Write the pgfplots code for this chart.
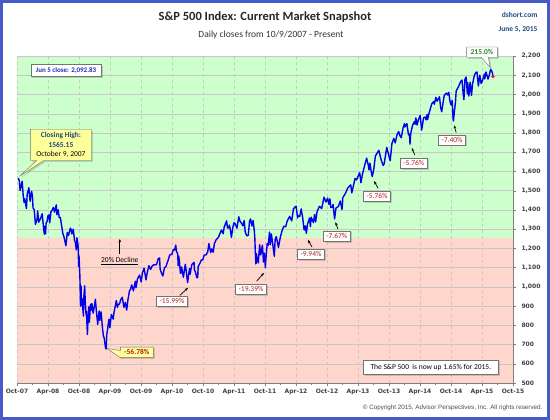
\documentclass[border=0pt]{standalone}
\usepackage{fontspec}
\setmainfont{Carlito}
\newfontfamily\tickfont{DejaVu Sans}
\newfontfamily\arialfont{Liberation Sans}
\usepackage{pgfplots}
\usepackage{pgfplotstable}
\pgfplotsset{compat=1.18}
\usetikzlibrary{shapes.callouts,shadows,arrows.meta}

\definecolor{bggreen}{RGB}{204,255,204}
\definecolor{bgred}{RGB}{255,214,204}
\definecolor{frameblue}{RGB}{70,90,200}
\definecolor{lineblue}{RGB}{0,0,235}
\definecolor{titleblue}{RGB}{31,73,125}
\definecolor{boxblue}{RGB}{40,40,190}
\definecolor{annred}{RGB}{180,30,30}
\definecolor{anngreen}{RGB}{40,140,40}
\definecolor{calloutyellow}{RGB}{255,255,153}

\pgfplotstableread{
x y
0.27 1565
0.47 1548
0.60 1501
0.77 1520
1.00 1549
1.20 1475
1.37 1439
1.50 1458
1.83 1407
1.97 1481
2.30 1515
2.53 1445
2.83 1497
3.00 1468
3.10 1411
3.33 1401
3.57 1325
3.73 1338
3.90 1353
4.00 1395
4.20 1336
4.43 1348
4.63 1360
4.87 1380
5.20 1293
5.30 1273
5.40 1315
5.53 1276
5.63 1330
5.83 1341
6.00 1370
6.20 1373
6.33 1332
6.57 1390
6.80 1398
7.03 1413
7.27 1388
7.60 1426
7.73 1375
7.97 1400
8.17 1360
8.40 1360
8.63 1318
8.87 1278
9.07 1262
9.47 1214
9.73 1283
9.97 1267
10.33 1305
10.47 1298
10.63 1275
10.90 1300
11.13 1242
11.30 1232
11.47 1192
11.60 1255
11.83 1213
11.93 1106
12.00 1161
12.17 1057
12.30 899
12.40 1003
12.47 908
12.53 940
12.70 896
12.87 848
12.90 941
13.00 968
13.10 1005
13.20 930
13.37 853
13.43 873
13.63 752
13.77 851
13.90 896
14.00 816
14.23 909
14.37 879
14.50 913
14.73 863
15.00 903
15.17 935
15.37 871
15.63 805
15.70 828
15.90 874
16.03 825
16.27 870
16.53 789
16.73 743
16.87 735
17.13 683
17.27 676.5
17.37 750
17.53 778
17.73 822
17.83 832
17.97 787
18.27 856
18.63 832
18.77 866
19.23 929
19.43 893
19.60 909
19.83 910
20.07 932
20.37 946
20.70 893
20.97 919
21.23 879
21.47 932
21.77 979
21.97 987
22.20 1010
22.53 979
22.90 1029
23.03 995
23.33 1042
23.73 1061
24.03 1025
24.27 1072
24.60 1097
24.97 1036
25.17 1069
25.53 1110
25.87 1091
26.10 1106
26.43 1114
27.00 1115
27.33 1146
27.60 1150
27.70 1092
27.93 1074
28.23 1056
28.53 1099
28.83 1105
29.27 1140
29.57 1166
29.97 1169
30.27 1194
30.50 1192
30.73 1217
30.87 1183
31.10 1173
31.17 1128
31.20 1110
31.30 1160
31.43 1136
31.63 1071
31.80 1074
31.87 1103
32.10 1065
32.20 1050
32.57 1117
32.70 1095
32.93 1041
33.03 1022.6
33.20 1060
33.40 1095
33.50 1065
33.83 1115
34.27 1127
34.33 1089
34.50 1079
34.83 1047
34.97 1049
35.07 1105
35.40 1122
35.67 1139
35.97 1141
36.23 1165
36.60 1166
36.93 1183
37.13 1225
37.50 1178
37.70 1197
37.97 1180
38.20 1224
38.53 1244
39.00 1258
39.20 1272
39.57 1295
39.90 1276
40.10 1310
40.57 1343
40.73 1307
41.00 1306
41.10 1321
41.30 1295
41.50 1257
41.77 1309
42.00 1333
42.23 1328
42.57 1305
42.93 1364
43.17 1340
43.50 1329
43.73 1317
43.97 1345
44.17 1286
44.47 1265
44.77 1268
45.00 1340
45.20 1353
45.47 1316
45.70 1345
45.93 1292
46.03 1254
46.10 1200
46.23 1119
46.27 1172
46.30 1121
46.33 1172
46.57 1140
46.70 1124
46.97 1219
47.17 1166
47.50 1216
47.70 1129
47.87 1175
48.07 1099
48.20 1155
48.43 1225
48.63 1215
48.87 1285
49.03 1219
49.23 1275
49.53 1216
49.80 1159
49.97 1247
50.20 1261
50.60 1205
50.97 1258
51.30 1292
51.63 1315
52.00 1312
52.30 1342
52.77 1366
53.17 1343
53.50 1404
53.83 1416
54.03 1419
54.30 1358
54.40 1370
54.73 1366
55.00 1405
55.30 1358
55.57 1295
55.80 1317
56.00 1278
56.23 1325
56.60 1357
56.80 1313
56.93 1362
57.37 1334
57.60 1376
57.80 1337
58.07 1390
58.53 1418
58.97 1407
59.43 1466
59.80 1441
60.13 1461
60.37 1429
60.57 1457
60.73 1413
61.03 1414
61.17 1428
61.47 1353
61.73 1409
62.20 1418
62.57 1446
62.90 1402
63.00 1426
63.03 1462
63.57 1486
64.00 1513
64.60 1530
64.80 1488
65.43 1563
65.70 1556
66.33 1593
66.57 1541
66.83 1582
67.30 1633
67.67 1669
68.00 1631
68.13 1608
68.30 1643
68.63 1588
68.77 1573
69.07 1615
69.37 1680
69.70 1695
70.03 1710
70.47 1661
70.87 1631
71.07 1640
71.57 1725
71.97 1682
72.23 1656
72.57 1745
72.93 1772
73.20 1748
73.57 1792
73.87 1807
74.13 1785
74.37 1775
74.73 1827
75.00 1848
75.07 1831
75.47 1848
75.77 1790
75.97 1794
76.07 1742
76.20 1797
76.57 1840
76.93 1859
77.07 1845
77.20 1878
77.43 1841
77.67 1866
78.03 1891
78.33 1815
78.70 1879
79.00 1883
79.20 1868
79.40 1897
79.47 1870
79.73 1900
80.27 1951
80.63 1963
80.77 1949
81.07 1985
81.30 1965
81.77 1988
82.00 1931
82.20 1910
82.67 1993
82.93 2003
83.13 2007
83.33 1997
83.57 2011
83.80 1965
84.00 1946
84.23 1968
84.40 1874
84.47 1862
84.63 1905
84.87 1961
85.00 2018
85.43 2039
85.90 2068
86.13 2075
86.37 2002
86.50 1973
86.70 2078
86.93 2091
87.17 2003
87.23 2062
87.47 1992
87.70 2063
87.97 1995
88.17 2055
88.53 2100
88.80 2114
89.03 2117
89.30 2044
89.57 2100
89.83 2057
90.03 2067
90.47 2106
90.53 2081
90.77 2117
91.17 2080
91.40 2099
91.67 2131
91.90 2121
92.03 2110
92.13 2093
}\spx

\begin{document}
\begin{tikzpicture}
\begin{axis}[
  name=ax,
  scale only axis, width=496pt, height=327pt,
  xmin=0, xmax=96, ymin=500, ymax=2200,
  set layers, clip=false,
  axis x line*=bottom, axis y line*=right,
  axis line style={gray}, tick style={gray}, tick align=outside,
  major tick length=3pt, minor tick length=2pt,
  xtick={0,6,...,96},
  xticklabels={Oct-07,Apr-08,Oct-08,Apr-09,Oct-09,Apr-10,Oct-10,Apr-11,Oct-11,Apr-12,Oct-12,Apr-13,Oct-13,Apr-14,Oct-14,Apr-15,Oct-15},
  minor x tick num=1,
  ytick={500,600,...,2200},
  yticklabel pos=right,
  yticklabel style={xshift=2pt},
  /pgf/number format/1000 sep={,},
  /pgf/number format/assume math mode=true,
  ticklabel style={font=\tickfont\bfseries\fontsize{6}{7}\selectfont, text=black!75},
  xmajorgrids, ymajorgrids,
  x grid style={dashed, black!22},
  y grid style={black!22},
]
\begin{pgfonlayer}{axis background}
\fill[bgred] (axis cs:0,500) rectangle (axis cs:96,1252);
\fill[bggreen] (axis cs:0,1252) rectangle (axis cs:96,2200);
\end{pgfonlayer}
\addplot[lineblue, line width=1.4pt, line join=round] table[x=x,y=y] {\spx};
\addplot[only marks, mark=*, mark size=1.4pt, color=red!70!magenta] coordinates {(92.13,2093)};

\node[draw=black!55, fill=white, drop shadow={shadow xshift=1.5pt,shadow yshift=-1.5pt,opacity=0.35}, font=\bfseries\fontsize{7}{8}\selectfont, text=boxblue, inner xsep=5pt, inner ysep=3pt] at (axis cs:9.5,2125) {Jun 5 close: 2,092.83};

\node[rectangle callout, draw=black!55, fill=calloutyellow, drop shadow={shadow xshift=1.5pt,shadow yshift=-1.5pt,opacity=0.35}, align=center, font=\fontsize{7.5}{9.5}\selectfont, inner xsep=6pt, inner ysep=3pt, callout absolute pointer={(axis cs:0.5,1575)}] at (axis cs:8.5,1738) {\textcolor{titleblue}{\bfseries Closing High:}\\\textcolor{titleblue}{\bfseries 1565.15}\\October 9, 2007};

\node[font=\fontsize{7.5}{9}\selectfont] at (axis cs:19.9,1134) {\underline{20\% Decline}};
\draw[-{Stealth[length=3.5pt]}, line width=0.7pt] (axis cs:19.9,1172) -- (axis cs:19.9,1249);

\node[rectangle callout, draw=black!55, fill=calloutyellow, drop shadow={shadow xshift=1.5pt,shadow yshift=-1.5pt,opacity=0.35}, font=\bfseries\fontsize{7.5}{9}\selectfont, text=annred, inner xsep=4pt, inner ysep=2.5pt, callout absolute pointer={(axis cs:17.4,680)}] at (axis cs:23.2,660) {-56.78\%};

\tikzset{dbox/.style={draw=black!55, fill=white, drop shadow={shadow xshift=1.5pt,shadow yshift=-1.5pt,opacity=0.35}, font=\fontsize{7.5}{9}\selectfont, text=annred, inner xsep=3pt, inner ysep=2.5pt},
 darr/.style={-{Stealth[length=3.5pt]}, line width=0.7pt}}

\node[dbox] at (axis cs:30.0,925) {-15.99\%};
\draw[darr] (axis cs:31.5,955) -- (axis cs:33.1,995);

\node[dbox] at (axis cs:45.3,989) {-19.39\%};
\draw[darr] (axis cs:46.4,1030) -- (axis cs:47.8,1072);

\node[dbox] at (axis cs:56.9,1171) {-9.94\%};
\draw[darr] (axis cs:57.1,1207) -- (axis cs:56.3,1244);

\node[dbox] at (axis cs:61.9,1264) {-7.67\%};
\draw[darr] (axis cs:62.1,1302) -- (axis cs:61.6,1337);

\node[dbox] at (axis cs:69.7,1472) {-5.76\%};
\draw[darr] (axis cs:69.9,1512) -- (axis cs:69.1,1550);

\node[dbox] at (axis cs:76.8,1644) {-5.76\%};
\draw[darr] (axis cs:77.0,1685) -- (axis cs:76.4,1722);

\node[dbox] at (axis cs:84.2,1764) {-7.40\%};
\draw[darr] (axis cs:85.0,1802) -- (axis cs:84.6,1840);

\node[rectangle callout, draw=black!55, fill=white, drop shadow={shadow xshift=1.5pt,shadow yshift=-1.5pt,opacity=0.35}, font=\bfseries\fontsize{7.5}{9}\selectfont, text=anngreen, inner xsep=4pt, inner ysep=2.5pt, callout absolute pointer={(axis cs:91.6,2140)}] at (axis cs:90.0,2220) {215.0\%};

\node[draw=black!55, fill=white, drop shadow={shadow xshift=1.5pt,shadow yshift=-1.5pt,opacity=0.35}, font=\fontsize{7.5}{9}\selectfont, inner xsep=7pt, inner ysep=4pt] at (axis cs:80.1,583) {The S\&P 500 \ is now up 1.65\% for 2015.};
\end{axis}
\begin{scope}[x=1pt, y=1pt, shift={(ax.south west)}, xshift=-17pt, yshift=-37pt]
\draw[frameblue, line width=3pt] (1.5,1.5) rectangle (548.5,418.5);
\node[font=\bfseries\fontsize{12.5}{14}\selectfont, text=black!85] at (265,403) {S\&P 500 Index: Current Market Snapshot};
\node[font=\fontsize{9.5}{11}\selectfont, text=black!80] at (271,385) {Daily closes from 10/9/2007 - Present};
\node[font=\bfseries\fontsize{7.5}{9}\selectfont, text=titleblue, anchor=east] at (541,405) {dshort.com};
\node[font=\bfseries\fontsize{7.5}{9}\selectfont, text=titleblue, anchor=east] at (541,390) {June 5, 2015};
\node[font=\arialfont\fontsize{6.3}{7}\selectfont, text=black!70, anchor=east] at (546,12) {\textcopyright\ Copyright 2015, Advisor Perspectives, Inc. All rights reserved.};
\end{scope}
\end{tikzpicture}
\end{document}
